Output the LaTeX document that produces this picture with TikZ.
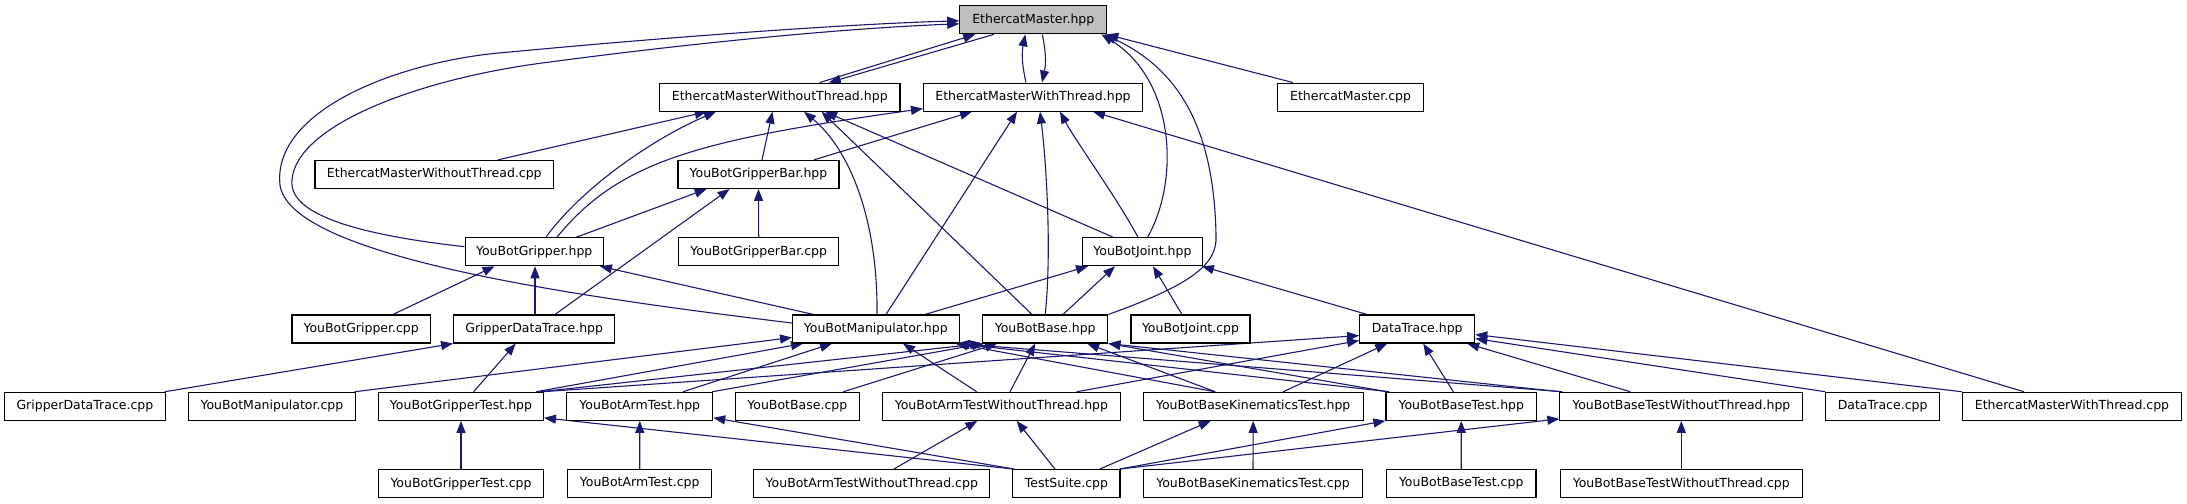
\documentclass[tikz,border=0pt]{standalone}
\usepackage{fontspec}
\setmainfont{DejaVu Sans}
\usetikzlibrary{arrows.meta}
\definecolor{edgeblue}{HTML}{191970}
\definecolor{emgrey}{HTML}{BFBFBF}
\newcommand\dxfont{\fontsize{12.5bp}{14bp}\selectfont}
\pgfdeclarelayer{bg}
\pgfsetlayers{bg,main}
\tikzset{
  box/.style={draw=black, line width=1.1bp, fill=white, minimum height=28bp, inner sep=0pt, font=\dxfont, anchor=center},
  edge/.style={draw=edgeblue, line width=1.1bp, -{Triangle[length=12bp,width=9bp]}},
}
\begin{document}
\begin{tikzpicture}[x=1bp,y=-1bp]
\useasboundingbox (0,0) rectangle (2187,504);
% row 1
\node[box, fill=emgrey, minimum width=147bp] (EMhpp) at (1033.3,19.8) {EthercatMaster.hpp};
% row 2
\node[box, minimum width=240.3bp] (EMWo) at (779.8,97.1) {EthercatMasterWithoutThread.hpp};
\node[box, minimum width=219bp] (EMW) at (1033,97.1) {EthercatMasterWithThread.hpp};
\node[box, minimum width=146.6bp] (EMcpp) at (1350.6,97.1) {EthercatMaster.cpp};
% row 3
\node[box, minimum width=238.6bp] (EMWocpp) at (434.3,174.4) {EthercatMasterWithoutThread.cpp};
\node[box, minimum width=161bp] (GBar) at (758.5,174.4) {YouBotGripperBar.hpp};
% row 4
\node[box, minimum width=138.3bp] (Grip) at (534.2,251.7) {YouBotGripper.hpp};
\node[box, minimum width=160bp] (GBarcpp) at (758.7,251.7) {YouBotGripperBar.cpp};
\node[box, minimum width=119.8bp] (Joint) at (1142.4,251.7) {YouBotJoint.hpp};
% row 5
\node[box, minimum width=138.5bp] (Gripcpp) at (361.2,329) {YouBotGripper.cpp};
\node[box, minimum width=161.2bp] (GDT) at (534.2,329) {GripperDataTrace.hpp};
\node[box, minimum width=166.5bp] (YM) at (875.8,329) {YouBotManipulator.hpp};
\node[box, minimum width=125.2bp] (YB) at (1045.2,329) {YouBotBase.hpp};
\node[box, minimum width=119bp] (Jointcpp) at (1190.5,329) {YouBotJoint.cpp};
\node[box, minimum width=115.1bp] (DT) at (1417.2,329) {DataTrace.hpp};
% row 6
\node[box, minimum width=160.6bp] (GDTcpp) at (84.9,406.3) {GripperDataTrace.cpp};
\node[box, minimum width=166.3bp] (YMcpp) at (271.9,406.3) {YouBotManipulator.cpp};
\node[box, minimum width=164.9bp] (GTest) at (461,406.3) {YouBotGripperTest.hpp};
\node[box, minimum width=145.8bp] (ArmTest) at (639.8,406.3) {YouBotArmTest.hpp};
\node[box, minimum width=124bp] (YBcpp) at (797.3,406.3) {YouBotBase.cpp};
\node[box, minimum width=237.3bp] (ArmWoT) at (1001.4,406.3) {YouBotArmTestWithoutThread.hpp};
\node[box, minimum width=220bp] (BKT) at (1253.2,406.3) {YouBotBaseKinematicsTest.hpp};
\node[box, minimum width=150.7bp] (BTest) at (1461.3,406.3) {YouBotBaseTest.hpp};
\node[box, minimum width=242.8bp] (BWoT) at (1681.3,406.3) {YouBotBaseTestWithoutThread.hpp};
\node[box, minimum width=113.4bp] (DTcpp) at (1882.6,406.3) {DataTrace.cpp};
\node[box, minimum width=219bp] (EMWcpp) at (2072,406.3) {EthercatMasterWithThread.cpp};
% row 7
\node[box, minimum width=164.5bp] (GTestcpp) at (461,483.6) {YouBotGripperTest.cpp};
\node[box, minimum width=144bp] (ArmTestcpp) at (639.7,483.6) {YouBotArmTest.cpp};
\node[box, minimum width=236.2bp] (ArmWoTcpp) at (871.8,483.6) {YouBotArmTestWithoutThread.cpp};
\node[box, minimum width=107.2bp] (TestSuite) at (1066.4,483.6) {TestSuite.cpp};
\node[box, minimum width=218.5bp] (BKTcpp) at (1253,483.6) {YouBotBaseKinematicsTest.cpp};
\node[box, minimum width=149.6bp] (BTestcpp) at (1461.2,483.6) {YouBotBaseTest.cpp};
\node[box, minimum width=241.7bp] (BWoTcpp) at (1681.3,483.6) {YouBotBaseTestWithoutThread.cpp};

\begin{pgfonlayer}{bg}
\fill[white] (0,0) rectangle (2187,504);
% into EthercatMaster.hpp
\draw[edge] ([xshift=39.8bp]EMWo.north) -- ([xshift=-58bp]EMhpp.south);
\draw[edge] ([xshift=-39.3bp]EMhpp.south) -- ([xshift=49bp]EMWo.north);
\draw[edge] ([xshift=-7bp]EMW.north) to[bend left=12] ([xshift=-8bp]EMhpp.south);
\draw[edge] ([xshift=9bp]EMhpp.south) to[bend left=12] ([xshift=9bp]EMW.north);
\draw[edge] ([xshift=-57.6bp]EMcpp.north) -- ([xshift=-1bp]EMhpp.south east);
\draw[edge] ([xshift=5.2bp]Joint.north) .. controls (1180,180) and (1175,80) .. ([xshift=-6bp]EMhpp.south east);
\draw[edge] (YB.north east) .. controls (1190,285) and (1218,265) .. (1216,235) .. controls (1214,130) and (1180,70) .. ([xshift=-3bp]EMhpp.south east);
\draw[edge] ([yshift=6bp]YM.west) .. controls (560,295) and (290,255) .. (280,185) .. controls (272,110) and (400,60) .. (510,52) .. controls (680,36) and (850,24) .. ([yshift=-1bp]EMhpp.west);
\draw[edge] ([yshift=5bp]Grip.west) .. controls (360,235) and (288,215) .. (292,180) .. controls (296,125) and (420,78) .. (550,62) .. controls (700,42) and (850,28) .. ([yshift=-4bp]EMhpp.west);
% into EthercatMasterWithoutThread.hpp
\draw[edge] ([xshift=63.7bp]EMWocpp.north) -- ([xshift=-73bp]EMWo.south);
\draw[edge] ([xshift=11.8bp]Grip.north) .. controls (580,190) and (650,140) .. ([xshift=-63.8bp]EMWo.south);
\draw[edge] ([xshift=3.5bp]GBar.north) -- ([xshift=-7.3bp]EMWo.south);
\draw[edge] ([xshift=1.2bp]YM.north) .. controls (878,220) and (850,150) .. ([xshift=24.2bp]EMWo.south);
\draw[edge] ([xshift=-13.2bp]YB.north) -- ([xshift=41.7bp]EMWo.south);
\draw[edge] ([xshift=-29.4bp]Joint.north) -- ([xshift=45.2bp]EMWo.south);
% into EthercatMasterWithThread.hpp
\draw[edge] ([xshift=22.8bp]Grip.north) .. controls (620,160) and (700,140) .. ([yshift=3bp]EMW.south west);
\draw[edge] ([xshift=55.5bp]GBar.north) -- ([xshift=-61bp]EMW.south);
\draw[edge] ([xshift=10.2bp]YM.north) -- ([xshift=-16bp]EMW.south);
\draw[edge] (YB.north) .. controls (1052,250) and (1046,160) .. ([xshift=7bp]EMW.south);
\draw[edge] ([xshift=-4.4bp]Joint.north) .. controls (1115,195) and (1075,140) .. ([xshift=27bp]EMW.south);
\draw[edge] ([xshift=-48bp]EMWcpp.north) -- ([xshift=60bp]EMW.south);
% into YouBotGripperBar.hpp
\draw[edge] (GBarcpp.north) -- (GBar.south);
\draw[edge] ([xshift=42.3bp]Grip.north) -- ([xshift=-51.8bp]GBar.south);
\draw[edge] ([xshift=20.8bp]GDT.north) -- ([xshift=-28.9bp]GBar.south);
% into YouBotGripper.hpp
\draw[edge] ([xshift=31.8bp]Gripcpp.north) -- ([xshift=-39.6bp]Grip.south);
\draw[edge] ([xshift=0.8bp]GDT.north) -- ([xshift=0.8bp]Grip.south);
\draw[edge] ([xshift=-62.3bp]YM.north) -- ([xshift=-4bp]Grip.south east);
% into YouBotJoint.hpp
\draw[edge] ([xshift=49.2bp]YM.north) -- ([xshift=-54.4bp]Joint.south);
\draw[edge] ([xshift=17.8bp]YB.north) -- ([xshift=-27.4bp]Joint.south);
\draw[edge] ([xshift=-8.5bp]Jointcpp.north) -- ([xshift=10.6bp]Joint.south);
\draw[edge] ([xshift=-50.2bp]DT.north) -- ([xshift=-1bp]Joint.south east);
% into GripperDataTrace.hpp
\draw[edge] ([xshift=-1bp]GDTcpp.north east) -- (GDT.south west);
\draw[edge] ([xshift=12.6bp]GTest.north) -- ([xshift=-18.5bp]GDT.south);
% into YouBotManipulator.hpp
\draw[edge] ([xshift=-1bp]YMcpp.north east) -- ([yshift=6bp]YM.south west);
\draw[edge] ([xshift=-8bp]GTest.north east) -- ([xshift=-72.8bp]YM.south);
\draw[edge] ([xshift=43.2bp]ArmTest.north) -- ([xshift=-43.8bp]YM.south);
\draw[edge] ([xshift=-24.7bp]ArmWoT.north) -- ([xshift=27.2bp]YM.south);
\draw[edge] ([xshift=-38.2bp]BKT.north) -- ([xshift=-4bp]YM.south east);
\draw[edge] ([xshift=4bp]BTest.north west) -- ([xshift=-3bp]YM.south east);
\draw[edge] ([xshift=3bp]BWoT.north west) -- ([xshift=-2bp]YM.south east);
% into YouBotBase.hpp
\draw[edge] ([xshift=-4bp]GTest.north east) -- (YB.south west);
\draw[edge] ([xshift=-1bp]ArmTest.north east) -- ([xshift=2bp]YB.south west);
\draw[edge] ([xshift=46bp]YBcpp.north) -- ([xshift=-48bp]YB.south);
\draw[edge] ([xshift=8.6bp]ArmWoT.north) -- ([xshift=-10bp]YB.south);
\draw[edge] ([xshift=-38bp]BKT.north) -- ([xshift=42bp]YB.south);
\draw[edge] ([xshift=2bp]BTest.north west) -- (YB.south east);
\draw[edge] ([xshift=1bp]BWoT.north west) -- (YB.south east);
% into DataTrace.hpp
\draw[edge] ([xshift=75.3bp]ArmWoT.north) -- ([yshift=3bp]DT.south west);
\draw[edge] ([xshift=-2bp]GTest.north east) -- ([yshift=8bp]DT.south west);
\draw[edge] ([xshift=30bp]BKT.north) -- ([xshift=-30bp]DT.south);
\draw[edge] ([xshift=-8bp]BTest.north) -- ([xshift=6bp]DT.south);
\draw[edge] ([xshift=-51bp]BWoT.north) -- ([xshift=50bp]DT.south);
\draw[edge] (DTcpp.north west) -- ([yshift=5bp]DT.south east);
\draw[edge] (EMWcpp.north west) -- ([yshift=9bp]DT.south east);
% bottom rows
\draw[edge] (GTestcpp.north) -- (GTest.south);
\draw[edge] (ArmTestcpp.north) -- (ArmTest.south);
\draw[edge] ([xshift=22bp]ArmWoTcpp.north) -- ([xshift=-24bp]ArmWoT.south);
\draw[edge] ([xshift=1bp]TestSuite.north west) -- ([yshift=3bp]GTest.south east);
\draw[edge] ([xshift=2bp]TestSuite.north west) -- ([yshift=3bp]ArmTest.south east);
\draw[edge] ([xshift=-11.4bp]TestSuite.north) -- ([xshift=15.2bp]ArmWoT.south);
\draw[edge] ([xshift=33.4bp]TestSuite.north) -- ([xshift=-42.5bp]BKT.south);
\draw[edge] ([xshift=-1bp]TestSuite.north east) -- (BTest.south west);
\draw[edge] ([xshift=-1bp]TestSuite.north east) -- ([yshift=2bp]BWoT.south west);
\draw[edge] (BKTcpp.north) -- (BKT.south);
\draw[edge] (BTestcpp.north) -- (BTest.south);
\draw[edge] (BWoTcpp.north) -- (BWoT.south);
\end{pgfonlayer}
\end{tikzpicture}
\end{document}
